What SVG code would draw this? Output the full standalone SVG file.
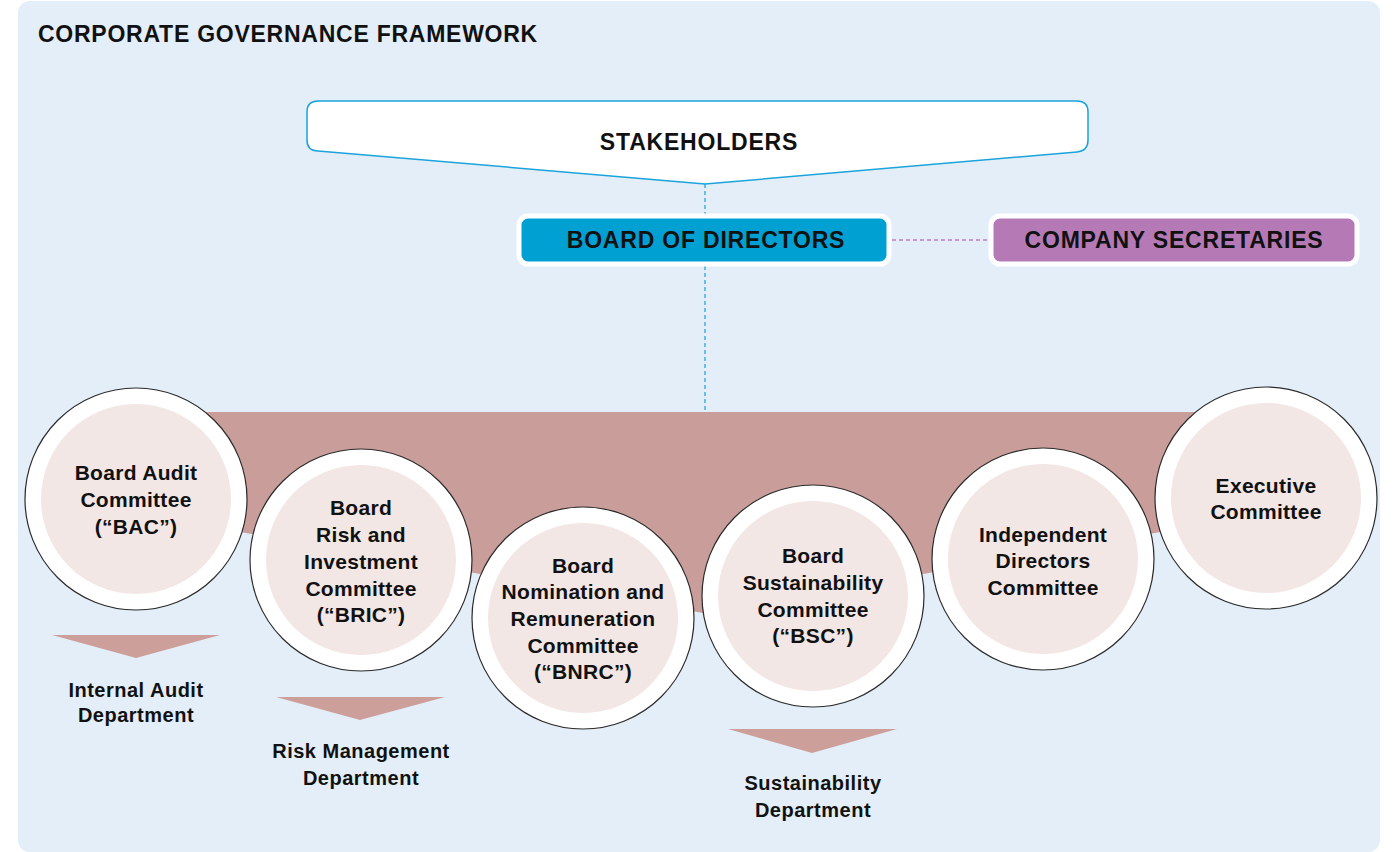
<svg xmlns="http://www.w3.org/2000/svg" width="1394" height="852" viewBox="0 0 1394 852">
  <style>
    text { font-family: "Liberation Sans", Arial, sans-serif; font-weight: bold; fill: #111; }
    .title { font-size: 23px; letter-spacing: 0.75px; }
    .head { font-size: 23px; letter-spacing: 0.8px; text-anchor: middle; }
    .cl { font-size: 21px; letter-spacing: 0.3px; text-anchor: middle; }
    .dl { font-size: 20px; letter-spacing: 0.5px; text-anchor: middle; }
    .ring { fill: #ffffff; stroke: #2b2b2b; stroke-width: 1.2; }
    .core { fill: #f2e7e5; }
    .dash-blue { stroke: #27a6de; stroke-width: 1.3; stroke-dasharray: 4 3; fill: none; }
    .dash-purple { stroke: #c07cc0; stroke-width: 1.3; stroke-dasharray: 4 3; fill: none; }
    .wedge { fill: #cd9f9b; }
  </style>

  <!-- panel -->
  <rect x="18" y="1" width="1362" height="851" rx="12" fill="#e3eef8"/>
  <text class="title" x="38" y="42">CORPORATE GOVERNANCE FRAMEWORK</text>

  <!-- connectors -->
  <g id="connectors">
    <line class="dash-blue" x1="705" y1="184" x2="705" y2="214"/>
    <line class="dash-blue" x1="705" y1="266" x2="705" y2="412"/>
    <line class="dash-purple" x1="892" y1="240" x2="988" y2="240"/>
    <polygon class="wedge" points="52,635 220,635 136,658"/>
    <polygon class="wedge" points="276,697 445,697 360,720"/>
    <polygon class="wedge" points="728,729 897,729 812,753"/>
  </g>

  <!-- stakeholders -->
  <g id="stakeholders">
    <path d="M318,101 H1077 Q1088,101 1088,112 V140 Q1088,151 1077,152 L705,184 L318,151 Q307,151 307,140 V112 Q307,101 318,101 Z" fill="#ffffff" stroke="#1ba3dc" stroke-width="1.5"/>
    <text class="head" x="699" y="150">STAKEHOLDERS</text>
  </g>

  <!-- board of directors -->
  <g id="board-of-directors">
    <rect x="519" y="216" width="370" height="48" rx="9" fill="#00a0d3" stroke="#ffffff" stroke-width="5"/>
    <text class="head" x="706" y="248">BOARD OF DIRECTORS</text>
  </g>

  <!-- company secretaries -->
  <g id="company-secretaries">
    <rect x="991" y="216" width="366" height="48" rx="9" fill="#b57ab5" stroke="#ffffff" stroke-width="5"/>
    <text class="head" x="1174" y="248">COMPANY SECRETARIES</text>
  </g>

  <!-- committee band -->
  <g id="committee-band">
    <polygon points="200,412 1200,412 1200,525 703,613 200,525" fill="#c99e9a"/>
  </g>

  <!-- committees -->
  <g id="bac">
    <circle class="ring" cx="136" cy="499" r="111"/>
    <circle class="core" cx="136" cy="499" r="95"/>
    <text class="cl" x="136" y="480">Board Audit</text>
    <text class="cl" x="136" y="507">Committee</text>
    <text class="cl" x="136" y="534">(“BAC”)</text>
  </g>

  <g id="bric">
    <circle class="ring" cx="361" cy="560" r="111"/>
    <circle class="core" cx="361" cy="560" r="95"/>
    <text class="cl" x="361" y="515">Board</text>
    <text class="cl" x="361" y="542">Risk and</text>
    <text class="cl" x="361" y="569">Investment</text>
    <text class="cl" x="361" y="596">Committee</text>
    <text class="cl" x="361" y="622">(“BRIC”)</text>
  </g>

  <g id="bnrc">
    <circle class="ring" cx="583" cy="618" r="111"/>
    <circle class="core" cx="583" cy="618" r="95"/>
    <text class="cl" x="583" y="573">Board</text>
    <text class="cl" x="583" y="599">Nomination and</text>
    <text class="cl" x="583" y="626">Remuneration</text>
    <text class="cl" x="583" y="653">Committee</text>
    <text class="cl" x="583" y="679">(“BNRC”)</text>
  </g>

  <g id="bsc">
    <circle class="ring" cx="813" cy="596" r="111"/>
    <circle class="core" cx="813" cy="596" r="95"/>
    <text class="cl" x="813" y="563">Board</text>
    <text class="cl" x="813" y="590">Sustainability</text>
    <text class="cl" x="813" y="617">Committee</text>
    <text class="cl" x="813" y="643">(“BSC”)</text>
  </g>

  <g id="idc">
    <circle class="ring" cx="1043" cy="559" r="111"/>
    <circle class="core" cx="1043" cy="559" r="95"/>
    <text class="cl" x="1043" y="542">Independent</text>
    <text class="cl" x="1043" y="568">Directors</text>
    <text class="cl" x="1043" y="595">Committee</text>
  </g>

  <g id="exco">
    <circle class="ring" cx="1266" cy="498" r="111"/>
    <circle class="core" cx="1266" cy="498" r="95"/>
    <text class="cl" x="1266" y="493">Executive</text>
    <text class="cl" x="1266" y="519">Committee</text>
  </g>

  <!-- departments -->
  <g id="internal-audit">
    <text class="dl" x="136" y="697">Internal Audit</text>
    <text class="dl" x="136" y="722">Department</text>
  </g>
  <g id="risk-management">
    <text class="dl" x="361" y="758">Risk Management</text>
    <text class="dl" x="361" y="785">Department</text>
  </g>
  <g id="sustainability">
    <text class="dl" x="813" y="790">Sustainability</text>
    <text class="dl" x="813" y="817">Department</text>
  </g>
</svg>
